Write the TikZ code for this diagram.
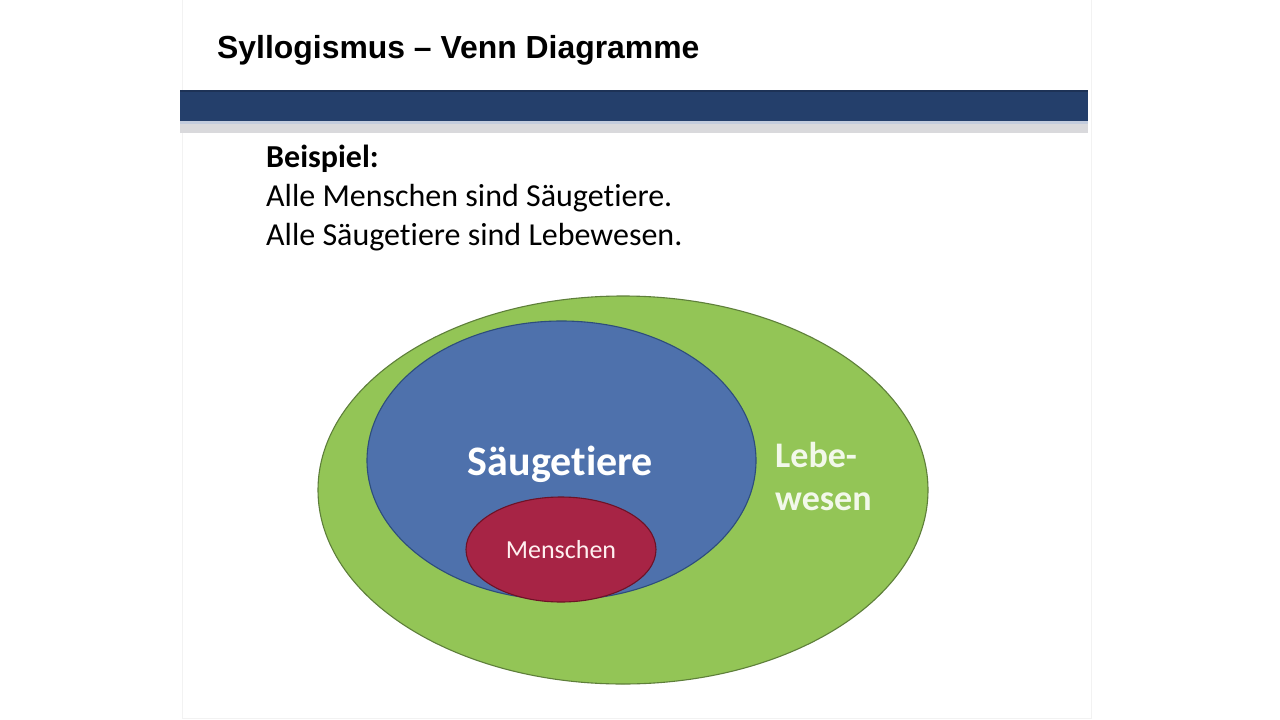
\documentclass[tikz,border=0pt]{standalone}
\usepackage{fontspec}
\setmainfont{Carlito}[Ligatures=NoCommon]
\newfontfamily\titlefont{Liberation Sans}
\usetikzlibrary{shapes.geometric}
\definecolor{barblue}{HTML}{243F6B}
\definecolor{barline}{HTML}{C3CCDD}
\definecolor{barshadow}{HTML}{D9D9DC}
\definecolor{lebgreen}{HTML}{93C556}
\definecolor{lebedge}{HTML}{5E7F3A}
\definecolor{saeblue}{HTML}{4E71AC}
\definecolor{saeedge}{HTML}{2D4D7C}
\definecolor{menred}{HTML}{A72445}
\definecolor{menedge}{HTML}{6E1226}
\definecolor{lebtext}{HTML}{F2F8EA}
\tikzset{
  setellipse/.style={ellipse, inner sep=0pt, line width=1.1pt},
  bodytext/.style={anchor=base west, inner sep=0pt, font=\fontsize{32}{38}\selectfont},
}
\begin{document}
\begin{tikzpicture}[x=1pt,y=-1pt]
\useasboundingbox (0,0) rectangle (1280,720);
\fill[white] (0,0) rectangle (1280,720);
\draw[black!5] (182,-1) rectangle (1091,718);
% title
\node[anchor=base west, inner sep=0pt, font=\titlefont\bfseries\fontsize{31.9}{38}\selectfont] (title) at (217,58) {Syllogismus – Venn Diagramme};
% bar
\fill[barshadow] (180,123) rectangle (1088,133);
\fill[barline] (180,120) rectangle (1088,124);
\fill[barblue] (180,90) rectangle (1088,121);
\fill[barblue!80!black] (180,90) rectangle (1088,92);
% text
\node[bodytext, font=\bfseries\fontsize{32}{38}\selectfont] (bsp) at (266,167) {Beispiel:};
\node[bodytext] (l1) at (266,206) {Alle Menschen sind Säugetiere.};
\node[bodytext] (l2) at (266,245) {Alle Säugetiere sind Lebewesen.};
% ellipses
\node[setellipse, fill=lebgreen, draw=lebedge, minimum width=610pt, minimum height=388pt] (leb) at (623,490) {};
\node[setellipse, fill=saeblue, draw=saeedge, minimum width=389pt, minimum height=279pt] (sae) at (561.5,460.5) {};
\node[setellipse, fill=menred, draw=menedge, minimum width=190pt, minimum height=105pt] (men) at (561,549.5) {};
% labels
\node[anchor=base, inner sep=0pt, text=white, font=\bfseries\fontsize{42}{50}\selectfont] (saet) at (560.5,475) {Säugetiere};
\node[anchor=base, inner sep=0pt, text=white!94!red, font=\fontsize{26}{31}\selectfont] (ment) at (561,558) {Menschen};
\node[anchor=base west, inner sep=0pt, text=lebtext, font=\bfseries\fontsize{36}{43}\selectfont] (lebt1) at (775,467) {Lebe-};
\node[anchor=base west, inner sep=0pt, text=lebtext, font=\bfseries\fontsize{36}{43}\selectfont] (lebt2) at (775,510) {wesen};
\end{tikzpicture}
\end{document}
